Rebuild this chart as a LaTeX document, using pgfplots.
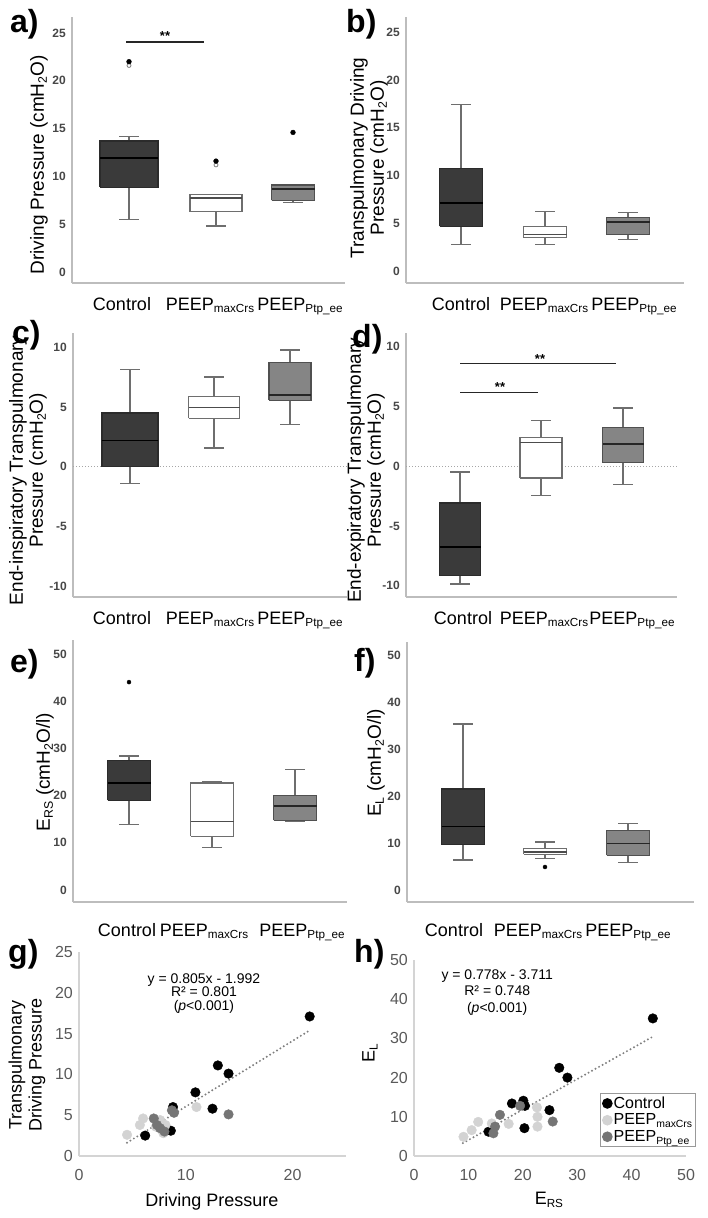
\documentclass[border=0pt]{standalone}
\usepackage{fontspec}
\setmainfont{Liberation Sans}
\usepackage{pgfplots}
\pgfplotsset{compat=1.18}

\definecolor{ctrlfill}{HTML}{3A3A3A}
\definecolor{ctrledge}{HTML}{2B2B2B}
\definecolor{maxedge}{HTML}{6E6E6E}
\definecolor{ptpfill}{HTML}{858585}
\definecolor{ptpedge}{HTML}{505050}
\definecolor{whisk}{HTML}{6E6E6E}
\definecolor{axgray}{HTML}{BDBDBD}
\definecolor{tickgray}{HTML}{474747}
\definecolor{scaxis}{HTML}{D4D4D4}
\definecolor{sctick}{HTML}{595959}
\definecolor{lgray}{HTML}{D3D3D3}
\definecolor{mgray}{HTML}{757575}
\definecolor{trend}{HTML}{7F7F7F}

\newcommand{\fs}[1]{\fontsize{#1}{#1}\selectfont}
\protected\def\sub#1{\raisebox{-0.3ex}{\scalebox{0.65}{#1}}}
\protected\def\PM{PEEP\sub{maxCrs}}
\protected\def\PP{PEEP\sub{Ptp\_ee}}

% box: style, position, half width, lower whisker, Q1, median, Q3, upper whisker
\newcommand{\BX}[8]{%
  \pgfmathsetmacro\bxL{#2-#3}\pgfmathsetmacro\bxR{#2+#3}%
  \pgfmathsetmacro\cpL{#2-10}\pgfmathsetmacro\cpR{#2+10}%
  \addplot[whisk, line width=1.4pt] coordinates {(#2,#4) (#2,#5)};
  \addplot[whisk, line width=1.4pt] coordinates {(#2,#7) (#2,#8)};
  \addplot[whisk, line width=1.4pt] coordinates {(\cpL,#4) (\cpR,#4)};
  \addplot[whisk, line width=1.4pt] coordinates {(\cpL,#8) (\cpR,#8)};
  \addplot[box#1] coordinates {(\bxL,#5) (\bxR,#5) (\bxR,#7) (\bxL,#7) (\bxL,#5)};
  \addplot[med#1] coordinates {(\bxL,#6) (\bxR,#6)};
}

\pgfplotsset{
  bp/.style={scale only axis, anchor=south west,
    axis x line=bottom, axis y line=left,
    axis line style={draw=axgray, line width=1.5pt, -},
    major tick length=0pt, clip=false,
    yticklabel style={font=\fontsize{12}{12}\selectfont\bfseries, text=tickgray, anchor=east, inner sep=0pt, xshift=-6pt},
    xticklabel style={font=\fs{18}, anchor=base, inner sep=0pt, yshift=-27pt},
    ylabel style={font=\fontsize{19}{20}\selectfont, align=center, anchor=center},
    xticklabels={Control,\PM,\PP},
    /pgf/number format/assume math mode=true},
  boxC/.style={draw=ctrledge, fill=ctrlfill, line width=1.1pt, line join=miter},
  boxM/.style={draw=maxedge, fill=white, line width=1.1pt, line join=miter},
  boxP/.style={draw=ptpedge, fill=ptpfill, line width=1.1pt, line join=miter},
  medC/.style={draw=black, line width=1.7pt},
  medM/.style={draw=black!70, line width=1.4pt},
  medP/.style={draw=black!85, line width=1.6pt},
  sc/.style={scale only axis, anchor=south west,
    axis x line=bottom, axis y line=left,
    axis line style={draw=scaxis, line width=1.2pt, -},
    major tick length=0pt, clip=false,
    tick label style={font=\fs{16}, text=sctick},
    yticklabel style={anchor=east, inner sep=0pt, xshift=-6pt},
    xticklabel style={anchor=base, inner sep=0pt, yshift=-24pt},
    xlabel style={font=\fs{18}, anchor=center},
    ylabel style={font=\fontsize{18}{20}\selectfont, align=center, anchor=center},
    /pgf/number format/assume math mode=true},
  dots/.style={only marks, mark=*, mark size=4.8pt, mark options={fill=#1, draw=#1}},
}

\begin{document}
\begin{tikzpicture}
\useasboundingbox (0,0) rectangle (708pt,-1218pt);

% ---------------- a ----------------
\begin{axis}[bp, at={(72pt,-283pt)}, width=273pt, height=266pt,
  xmin=72, xmax=345, ymin=-1.15, ymax=26.67,
  ytick={0,5,...,25}, xtick={122,210,300},
  ylabel={Driving Pressure (cmH\sub{2}O)},
  ylabel style={at={(axis description cs:-0.121,0.444)}}]
\BX{C}{129}{29}{5.5}{8.85}{11.9}{13.7}{14.2}
\BX{M}{216}{26}{4.8}{6.3}{7.76}{8.1}{8.1}
\BX{P}{293}{21.5}{7.27}{7.5}{8.7}{9.1}{9.1}
\addplot[only marks, mark=o, mark size=2pt, draw=gray, mark options={line width=0.8pt}] coordinates {(129,21.6) (216,11.2)};
\addplot[only marks, mark=*, mark size=2.4pt, black] coordinates {(129,22.0) (216,11.6) (293,14.6)};
\addplot[black!85, line width=1.2pt] coordinates {(126,24.05) (204,24.05)};
\node[anchor=base, font=\bfseries\fs{13}] at (axis cs:165,24.25) {**};
\end{axis}

% ---------------- b ----------------
\begin{axis}[bp, at={(406pt,-283pt)}, width=278pt, height=266pt,
  xmin=406, xmax=684, ymin=-1.26, ymax=26.6,
  ytick={0,5,...,25}, xtick={461,544,634},
  ylabel={Transpulmonary Driving\\Pressure (cmH\sub{2}O)},
  ylabel style={at={(axis description cs:-0.133,0.47)}}]
\BX{C}{461}{21.5}{2.76}{4.7}{7.1}{10.7}{17.45}
\BX{M}{545}{21.5}{2.76}{3.46}{3.8}{4.7}{6.26}
\BX{P}{628}{21.5}{3.3}{3.8}{5.1}{5.6}{6.1}
\end{axis}

% ---------------- c ----------------
\begin{axis}[bp, at={(73pt,-597pt)}, width=274pt, height=264pt,
  xmin=73, xmax=347, ymin=-10.92, ymax=11.2,
  ytick={-10,-5,0,5,10}, xtick={122,210,300},
  ylabel={End-inspiratory Transpulmonary\\Pressure (cmH\sub{2}O)},
  ylabel style={at={(axis description cs:-0.164,0.48)}}]
\addplot[gray!70, dotted, line width=1pt] coordinates {(73,0) (347,0)};
\BX{C}{130}{28}{-1.4}{0}{2.2}{4.5}{8.16}
\BX{M}{214}{25.5}{1.56}{4.05}{4.96}{5.86}{7.5}
\BX{P}{290}{21}{3.54}{5.58}{6.0}{8.7}{9.77}
\end{axis}

% ---------------- d ----------------
\begin{axis}[bp, at={(406pt,-597pt)}, width=271pt, height=264pt,
  xmin=406, xmax=677, ymin=-10.94, ymax=11.15,
  ytick={-10,-5,0,5,10}, xtick={463,544,632},
  ylabel={End-expiratory Transpulmonary\\Pressure (cmH\sub{2}O)},
  ylabel style={at={(axis description cs:-0.148,0.48)}}]
\addplot[gray!70, dotted, line width=1pt] coordinates {(406,0) (677,0)};
\BX{C}{460}{20.5}{-9.86}{-9.16}{-6.76}{-3.07}{-0.47}
\BX{M}{541}{21}{-2.46}{-0.98}{2.01}{2.43}{3.83}
\BX{P}{623}{20.5}{-1.54}{0.28}{1.87}{3.27}{4.89}
\addplot[black!85, line width=1.2pt] coordinates {(460,6.2) (538,6.2)};
\addplot[black!85, line width=1.2pt] coordinates {(460,8.58) (616,8.58)};
\node[anchor=base, font=\bfseries\fs{13}] at (axis cs:500,6.25) {**};
\node[anchor=base, font=\bfseries\fs{13}] at (axis cs:540,8.63) {**};
\end{axis}

% ---------------- e ----------------
\begin{axis}[bp, at={(73pt,-902pt)}, width=274pt, height=262pt,
  xmin=73, xmax=347, ymin=-2.55, ymax=53.03,
  ytick={0,10,...,50}, xtick={127,204,302},
  xticklabel style={yshift=-7pt},
  ylabel={E\sub{RS} (cmH\sub{2}O/l)},
  ylabel style={at={(axis description cs:-0.102,0.496)}}]
\BX{C}{129}{21.5}{13.9}{19.05}{22.7}{27.4}{28.4}
\BX{M}{212}{21.5}{9.0}{11.4}{14.5}{22.7}{22.9}
\BX{P}{295}{21.5}{14.5}{14.8}{17.8}{20.0}{25.6}
\addplot[only marks, mark=*, mark size=2pt, black] coordinates {(129,44.1)};
\end{axis}

% ---------------- f ----------------
\begin{axis}[bp, at={(407pt,-902pt)}, width=287pt, height=260pt,
  xmin=407, xmax=694, ymin=-2.55, ymax=52.77,
  ytick={0,10,...,50}, xtick={454,538,628},
  xticklabel style={yshift=-7pt},
  ylabel={E\sub{L} (cmH\sub{2}O/l)},
  ylabel style={at={(axis description cs:-0.108,0.535)}}]
\BX{C}{463}{21.5}{6.35}{9.67}{13.5}{21.5}{35.3}
\BX{M}{545}{21.5}{6.7}{7.6}{8.1}{8.75}{10.2}
\BX{P}{628}{21.5}{5.8}{7.4}{9.9}{12.7}{14.1}
\addplot[only marks, mark=*, mark size=2pt, black] coordinates {(545,4.9)};
\end{axis}

% ---------------- g ----------------
\begin{axis}[sc, at={(79pt,-1156pt)}, width=267pt, height=204pt,
  xmin=0, xmax=25, ymin=0, ymax=25,
  xtick={0,10,20}, ytick={0,5,...,25},
  xlabel={Driving Pressure},
  xlabel style={at={(axis description cs:0.498,-0.225)}},
  ylabel={Transpulmonary\\Driving Pressure},
  ylabel style={at={(axis description cs:-0.195,0.446)}}]
\addplot[dots=black] coordinates {(21.6,17.1) (13.0,11.1) (14.0,10.1) (10.9,7.8) (8.8,6.0) (12.5,5.8) (8.6,3.1) (6.2,2.5)};
\addplot[dots=lgray] coordinates {(4.5,2.6) (5.7,3.8) (6.0,4.6) (7.6,4.4) (7.9,2.8) (11.0,6.0) (7.2,3.6) (8.1,3.8)};
\addplot[dots=mgray] coordinates {(7.0,4.6) (7.3,3.8) (7.6,3.4) (8.0,3.0) (8.7,5.6) (14.0,5.1) (8.9,5.3)};
\addplot[trend, line width=2.2pt, line cap=round, dash pattern=on 0pt off 4pt, forget plot] coordinates {(4.5,1.63) (21.6,15.40)};
\node[align=center, font=\fontsize{14}{13.5}\selectfont] at (axis cs:11.7,19.95) {y = 0.805x - 1.992\\R² = 0.801\\(\textit{p}<0.001)};
\end{axis}

% ---------------- h ----------------
\begin{axis}[sc, at={(414pt,-1156pt)}, width=272pt, height=196pt,
  xmin=0, xmax=50, ymin=0, ymax=50,
  xtick={0,10,...,50}, ytick={0,10,...,50},
  xlabel={E\sub{RS}},
  xlabel style={at={(axis description cs:0.496,-0.224)}},
  ylabel={E\sub{L}},
  ylabel style={at={(axis description cs:-0.162,0.525)}},
  legend style={at={(axis description cs:0.684,0.046)}, anchor=south west,
    draw=gray!80, line width=1pt, font=\fs{16}, inner sep=2pt, row sep=1pt,
    nodes={inner sep=1.5pt}},
  legend cell align=left]
\addplot[dots=black] coordinates {(13.7,6.2) (18.0,13.4) (20.1,14.1) (20.4,12.8) (20.3,7.1) (24.9,11.7) (26.7,22.5) (28.2,20.0) (43.9,35.1)};
\addlegendentry{Control}
\addplot[dots=lgray] coordinates {(9.1,4.9) (10.6,6.6) (11.8,8.7) (14.3,8.3) (17.4,8.2) (22.6,12.4) (22.7,10.0) (22.7,7.5)};
\addlegendentry{\PM}
\addplot[dots=mgray] coordinates {(14.6,5.8) (14.9,7.5) (15.8,10.5) (19.5,12.8) (25.5,8.8)};
\addlegendentry{\PP}
\addplot[trend, line width=2.2pt, line cap=round, dash pattern=on 0pt off 4pt, forget plot] coordinates {(9.0,3.29) (43.9,30.44)};
\node[align=center, font=\fontsize{14}{16.5}\selectfont] at (axis cs:15.3,41.8) {y = 0.778x - 3.711\\R² = 0.748\\(\textit{p}<0.001)};
\end{axis}

% panel letters
\node[anchor=base west, inner sep=0pt, font=\bfseries\fs{32}] at (10pt,-32pt) {a)};
\node[anchor=base west, inner sep=0pt, font=\bfseries\fs{32}] at (346pt,-32pt) {b)};
\node[anchor=base west, inner sep=0pt, font=\bfseries\fs{32}] at (12pt,-343pt) {c)};
\node[anchor=base west, inner sep=0pt, font=\bfseries\fs{32}] at (352pt,-347pt) {d)};
\node[anchor=base west, inner sep=0pt, font=\bfseries\fs{32}] at (10pt,-672pt) {e)};
\node[anchor=base west, inner sep=0pt, font=\bfseries\fs{32}] at (354pt,-671pt) {f)};
\node[anchor=base west, inner sep=0pt, font=\bfseries\fs{32}] at (8pt,-962pt) {g)};
\node[anchor=base west, inner sep=0pt, font=\bfseries\fs{32}] at (354pt,-962pt) {h)};
\end{tikzpicture}
\end{document}
